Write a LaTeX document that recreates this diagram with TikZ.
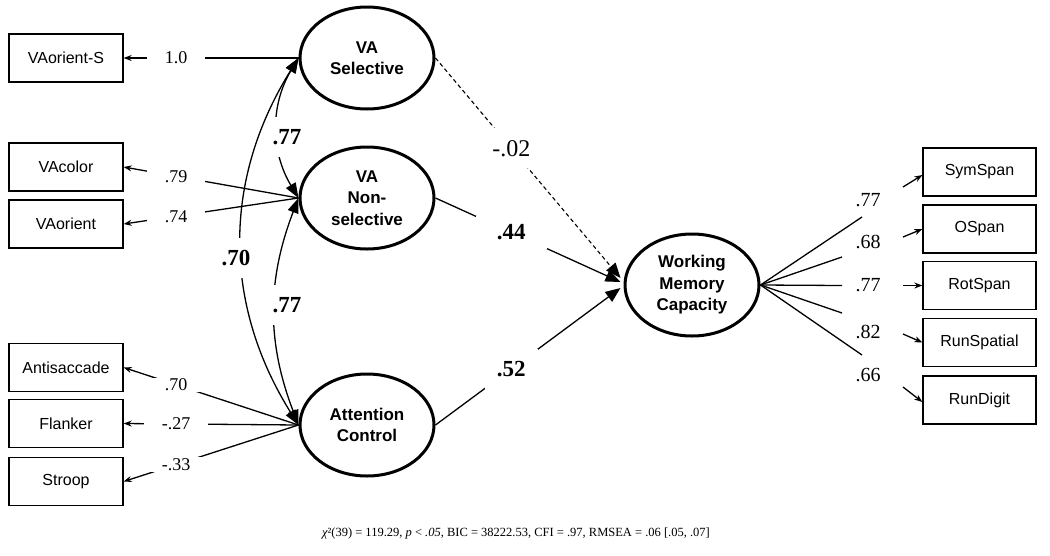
\documentclass[tikz,border=0pt]{standalone}
\usepackage{fontspec}
\setmainfont{Liberation Serif}
\setsansfont{Liberation Sans}
\usetikzlibrary{arrows.meta,shapes.geometric}
\begin{document}
\begin{tikzpicture}[x=1pt,y=-1pt,
  obs/.style={draw, line width=1.3pt, rectangle, minimum width=114pt, minimum height=48pt, inner sep=0pt, font=\sffamily\fontsize{16}{19}\selectfont},
  lat/.style={draw, line width=3pt, ellipse, minimum width=134pt, minimum height=102pt, inner sep=0pt, align=center, font=\sffamily\bfseries\fontsize{17}{21.5}\selectfont},
  ln/.style={line width=1.3pt},
  sm/.style={ln, -{Stealth[length=8pt,width=6pt]}},
  big/.style={ln, -{Triangle[length=15pt,width=12pt]}},
  cov/.style={ln, {Triangle[length=15pt,width=11pt]}-{Triangle[length=15pt,width=11pt]}},
  llab/.style={fill=white, font=\fontsize{18}{18}\selectfont, inner xsep=18pt, inner ysep=1pt},
  rlab/.style={font=\fontsize{20}{20}\selectfont},
  blab/.style={fill=white, font=\bfseries\fontsize{23}{23}\selectfont, inner xsep=2pt, inner ysep=12pt},
]
\useasboundingbox (0,0) rectangle (1050,555);

% observed, left
\node[obs] (vaos) at (66,58) {VAorient-S};
\node[obs] (vacol) at (66,167) {VAcolor};
\node[obs] (vaor) at (66,224) {VAorient};
\node[obs] (anti) at (66,367.5) {Antisaccade};
\node[obs] (flank) at (66,423.5) {Flanker};
\node[obs] (stroop) at (66,481.5) {Stroop};

% latents
\node[lat] (vas) at (367,58) {VA\\Selective};
\node[lat] (van) at (367,198) {VA\\Non-\\selective};
\node[lat] (ac) at (367,425) {Attention\\Control};
\node[lat] (wmc) at (692,285) {Working\\Memory\\Capacity};

% observed, right
\node[obs, minimum width=113pt] (sym) at (979.5,172) {SymSpan};
\node[obs, minimum width=113pt] (ospan) at (979.5,229) {OSpan};
\node[obs, minimum width=113pt] (rot) at (979.5,285.5) {RotSpan};
\node[obs, minimum width=113pt] (runsp) at (979.5,342.5) {RunSpatial};
\node[obs, minimum width=113pt] (rund) at (979.5,400) {RunDigit};

% left loadings
\draw[sm] (vas.west) -- node[llab,pos=0.7]{1.0} (vaos.east);
\draw[sm] (van.west) -- node[llab,pos=0.7]{.79} (vacol.east);
\draw[sm] (van.west) -- node[llab,pos=0.7]{.74} (vaor.east);
\draw[sm] (ac.west) -- node[llab,pos=0.7]{.70} (anti.east);
\draw[sm] (ac.west) -- node[llab,pos=0.7]{-.27} (flank.east);
\draw[sm] (ac.west) -- node[llab,pos=0.7]{-.33} (stroop.east);

% covariances
\draw[cov] (vas.west) to[bend right=31] (van.west);
\draw[cov] (van.west) to[bend right=21] (ac.west);
\draw[cov] (vas.west) to[bend right=32] (ac.west);
\node[blab] (c1) at (287,137) {.77};
\node[blab] (c2) at (287,305) {.77};
\node[blab] (c3) at (236,258) {.70};

% structural paths
\draw[big, line width=1.1pt, dash pattern=on 4pt off 3pt] (vas.east) -- node[pos=0.41, fill=white, font=\fontsize{24}{24}\selectfont, inner xsep=3pt, inner ysep=12pt]{-.02} ([xshift=-3pt,yshift=7pt]wmc.west);
\draw[big] (van.east) -- node[blab, pos=0.41, inner xsep=21pt, inner ysep=9pt]{.44} ([xshift=-3pt,yshift=3pt]wmc.west);
\draw[big] (ac.east) -- node[blab, pos=0.41, inner xsep=12pt, inner ysep=12pt]{.52} ([xshift=-3pt,yshift=-3pt]wmc.west);

% right loadings
\coordinate (r1) at (862,217);
\coordinate (r2) at (842,257);
\coordinate (r3) at (842,285.5);
\coordinate (r4) at (842,313);
\coordinate (r5) at (862,355);
\draw[ln] (wmc.east) -- (r1);
\draw[ln] (wmc.east) -- (r2);
\draw[ln] (wmc.east) -- (r3);
\draw[ln] (wmc.east) -- (r4);
\draw[ln] (wmc.east) -- (r5);
\node[rlab] (l1) at (868,200) {.77};
\node[rlab] (l2) at (868,242) {.68};
\node[rlab] (l3) at (868,285.5) {.77};
\node[rlab] (l4) at (868,332) {.82};
\node[rlab] (l5) at (868,375) {.66};
\coordinate (a1) at (903,187);
\coordinate (a2) at (903,237);
\coordinate (a3) at (903,285.5);
\coordinate (a4) at (903,334);
\coordinate (a5) at (903,387);
\draw[sm] (a1) -- ([yshift=-3pt]sym.west);
\draw[sm] (a2) -- (ospan.west);
\draw[sm] (a3) -- (rot.west);
\draw[sm] (a4) -- (runsp.west);
\draw[sm] (a5) -- ([yshift=-2pt]rund.west);

% fit statistics
\node[font=\fontsize{12.5}{15}\selectfont] (cap) at (516,533) {{\itshape χ}²(39) = 119.29, {\itshape p} < {\itshape .05}, BIC = 38222.53, CFI = .97, RMSEA = .06 [.05, .07]};
\end{tikzpicture}
\end{document}
